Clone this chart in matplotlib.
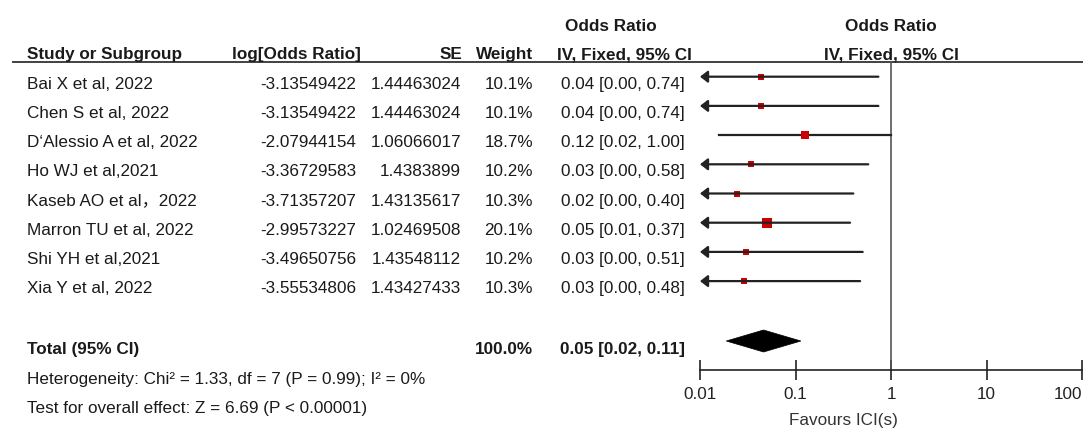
import numpy as np
import matplotlib
matplotlib.use('Agg')
import matplotlib.pyplot as plt
from matplotlib.patches import Polygon
from matplotlib.ticker import NullLocator

plt.rcParams['font.family'] = ['Liberation Sans', 'Noto Sans CJK SC', 'DejaVu Sans']

# Study data.
studies = ['Bai X et al, 2022', 'Chen S et al, 2022', 'D\u2018Alessio A et al, 2022',
           'Ho WJ et al,2021', 'Kaseb AO et al\uff0c2022', 'Marron TU et al, 2022',
           'Shi YH et al,2021', 'Xia Y et al, 2022']
log_or = [-3.13549422, -3.13549422, -2.07944154, -3.36729583,
          -3.71357207, -2.99573227, -3.49650756, -3.55534806]
se = [1.44463024, 1.44463024, 1.06066017, 1.4383899,
      1.43135617, 1.02469508, 1.43548112, 1.43427433]
weight = [10.1, 10.1, 18.7, 10.2, 10.3, 20.1, 10.2, 10.3]
ci_text = ['0.04 [0.00, 0.74]', '0.04 [0.00, 0.74]', '0.12 [0.02, 1.00]',
           '0.03 [0.00, 0.58]', '0.02 [0.00, 0.40]', '0.05 [0.01, 0.37]',
           '0.03 [0.00, 0.51]', '0.03 [0.00, 0.48]']
total_weight = '100.0%'
total_ci_text = '0.05 [0.02, 0.11]'
heterogeneity_text = 'Heterogeneity: Chi\u00b2 = 1.33, df = 7 (P = 0.99); I\u00b2 = 0%'
overall_text = 'Test for overall effect: Z = 6.69 (P < 0.00001)'
axis_ticks = [0.01, 0.1, 1, 10, 100]
axis_labels = ['0.01', '0.1', '1', '10', '100']
favours_label = 'Favours ICI(s)'

# Layout in pixels (figure is 1083 x 428).
W, H = 1083, 428
first_row_y = 76.7
row_step = 29.2
text_drop = 12
header_line_y = 62
axis_y = 370
total_y = 341
txt = '#1a1a1a'
fs = 12.3
red = '#cc0000'

# Fixed-effect (inverse variance) pooled estimate.
lo = np.array(log_or)
s = np.array(se)
w = 1 / s ** 2
pooled = np.sum(w * lo) / np.sum(w)
pooled_se = 1 / np.sqrt(np.sum(w))

fig = plt.figure(figsize=(W / 100, H / 100), dpi=100)
ax = fig.add_axes([0, 0, 1, 1])
ax.set_xlim(0, W)
ax.set_ylim(H, 0)
ax.axis('off')

# Headers.
ax.text(611, 31, 'Odds Ratio', ha='center', va='baseline', fontsize=fs, fontweight='bold', color=txt)
ax.text(27, 59, 'Study or Subgroup', ha='left', va='baseline', fontsize=fs, fontweight='bold', color=txt)
ax.text(361, 59, 'log[Odds Ratio]', ha='right', va='baseline', fontsize=fs, fontweight='bold', color=txt)
ax.text(462, 59, 'SE', ha='right', va='baseline', fontsize=fs, fontweight='bold', color=txt)
ax.text(533, 59, 'Weight', ha='right', va='baseline', fontsize=fs, fontweight='bold', color=txt)
ax.text(692, 59, 'IV, Fixed, 95% CI', ha='right', va='baseline', fontsize=fs, fontweight='bold', color=txt)
ax.plot([12, W], [header_line_y, header_line_y], color='#333333', lw=1.3, solid_capstyle='butt')

# Study rows.
for i, name in enumerate(studies):
    yb = first_row_y + i * row_step + text_drop
    ax.text(27, yb, name, ha='left', va='baseline', fontsize=fs, color=txt)
    ax.text(356, yb, str(log_or[i]), ha='right', va='baseline', fontsize=fs, color=txt)
    ax.text(461, yb, str(se[i]), ha='right', va='baseline', fontsize=fs, color=txt)
    ax.text(533, yb, f'{weight[i]:.1f}%', ha='right', va='baseline', fontsize=fs, color=txt)
    ax.text(685, yb, ci_text[i], ha='right', va='baseline', fontsize=fs, color=txt)

# Total and footer.
ax.text(27, total_y + 13, 'Total (95% CI)', ha='left', va='baseline', fontsize=fs, fontweight='bold', color=txt)
ax.text(533, total_y + 13, total_weight, ha='right', va='baseline', fontsize=fs, fontweight='bold', color=txt)
ax.text(685, total_y + 13, total_ci_text, ha='right', va='baseline', fontsize=fs, fontweight='bold', color=txt)
ax.text(27, 384, heterogeneity_text, ha='left', va='baseline', fontsize=fs, color=txt)
ax.text(27, 413, overall_text, ha='left', va='baseline', fontsize=fs, color=txt)

# Forest panel on a log scale.
fax = fig.add_axes([700 / W, 0, 382 / W, 1])
fax.set_xscale('log')
fax.set_xlim(0.01, 100)
fax.set_ylim(H, 0)
fax.patch.set_visible(False)
for side in ['top', 'left', 'right']:
    fax.spines[side].set_visible(False)
fax.spines['bottom'].set_position(('data', axis_y))
fax.spines['bottom'].set_linewidth(1.2)
fax.spines['bottom'].set_color('#222222')
fax.set_yticks([])
fax.set_xticks(axis_ticks)
fax.set_xticklabels(axis_labels)
fax.xaxis.set_minor_locator(NullLocator())
fax.tick_params(axis='x', direction='inout', length=14, width=1.2, pad=5,
                labelsize=fs, colors='#222222')
# keep the last label inside the figure
fax.get_xticklabels()[-1].set_horizontalalignment('right')

fax.text(1, 31, 'Odds Ratio', ha='center', va='baseline', fontsize=fs, fontweight='bold', color=txt)
fax.text(1, 59, 'IV, Fixed, 95% CI', ha='center', va='baseline', fontsize=fs, fontweight='bold', color=txt)
fax.plot([1, 1], [header_line_y, axis_y], color='#555555', lw=1.2, clip_on=False)

xmin = 0.01
for i in range(len(studies)):
    y = first_row_y + i * row_step
    est = np.exp(log_or[i])
    lower = np.exp(log_or[i] - 1.96 * se[i])
    upper = np.exp(log_or[i] + 1.96 * se[i])
    if lower < xmin:
        fax.annotate('', xy=(xmin, y), xytext=(upper, y), annotation_clip=False,
                     arrowprops=dict(arrowstyle='-|>,head_length=0.45,head_width=0.35',
                                     color='#222222', lw=1.6, shrinkA=0, shrinkB=0,
                                     mutation_scale=10))
    else:
        fax.plot([lower, upper], [y, y], color='#222222', lw=1.6, clip_on=False)
    side_px = 3 + 0.3 * weight[i]
    fax.plot(est, y, marker='s', markersize=side_px * 0.72, color=red,
             markeredgewidth=0, linestyle='none', clip_on=False)

# Pooled diamond.
d_lo = np.exp(pooled - 1.96 * pooled_se)
d_hi = np.exp(pooled + 1.96 * pooled_se)
d_est = np.exp(pooled)
half_h = 11
diamond = Polygon([(d_lo, total_y), (d_est, total_y - half_h), (d_hi, total_y), (d_est, total_y + half_h)],
                  closed=True, facecolor='black', edgecolor='black', lw=0.5, clip_on=False)
fax.add_patch(diamond)

fax.text(0.32, 425, favours_label, ha='center', va='baseline', fontsize=fs, color='#333333')

fig.savefig('out.png', dpi=100)
